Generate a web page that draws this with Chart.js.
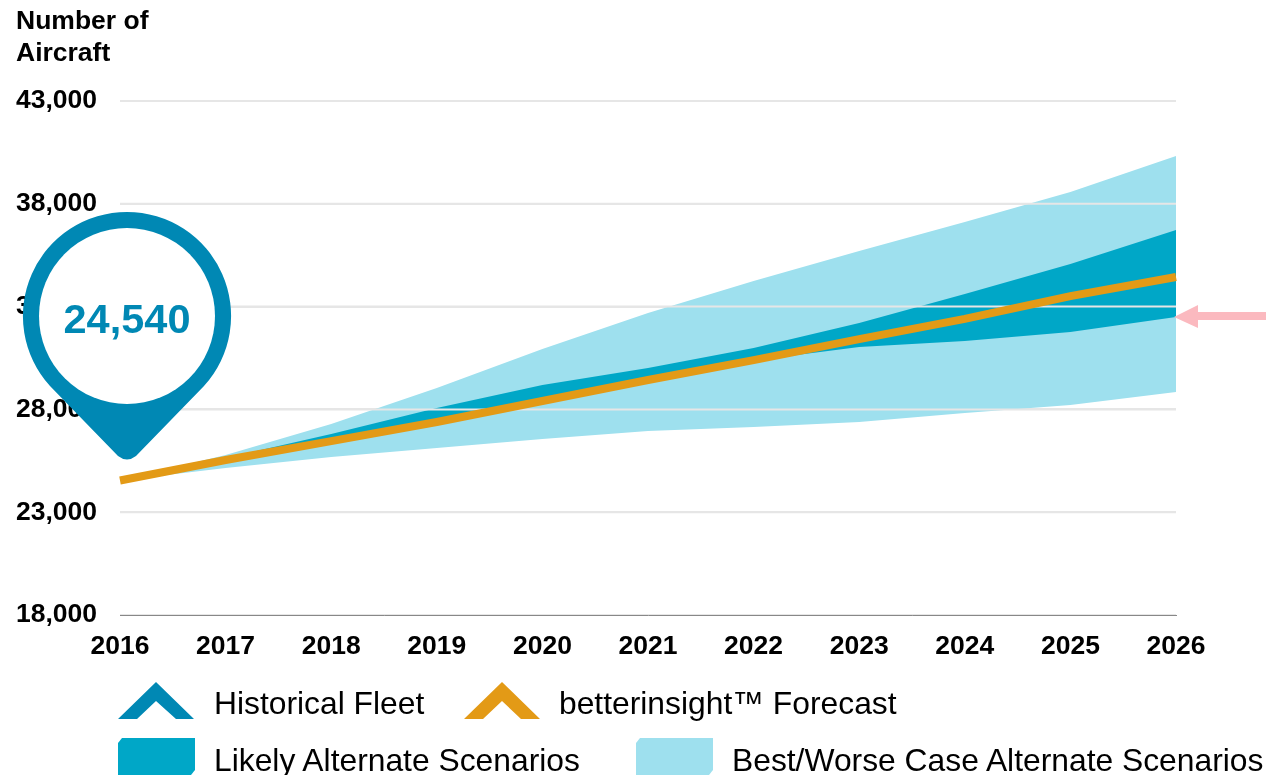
<!DOCTYPE html>
<html>
<head>
<meta charset="utf-8">
<title>Number of Aircraft</title>
<script src="https://cdn.jsdelivr.net/npm/chart.js@4/dist/chart.umd.js"></script>
<style>
    html, body { margin: 0; padding: 0; background: #fff; overflow: hidden; }
    #wrap { position: relative; width: 1266px; height: 775px; }
    #chart { position: absolute; left: 0; top: 0; }
    #overlay { position: absolute; left: 0; top: 0; font-family: "Liberation Sans", Arial, sans-serif; }
    .title { font-size: 26.5px; font-weight: bold; fill: #000; }
    .legend { font-size: 31.8px; fill: #000; }
</style>
</head>
<body>
<div id="wrap">
    <canvas id="chart" width="1266" height="775"></canvas>
    <svg id="overlay" width="1266" height="775" viewBox="0 0 1266 775">
        <text class="title" x="16" y="29">Number of</text>
        <text class="title" x="16" y="61">Aircraft</text>

        <!-- pin over the 2016 value -->
        <path fill="#0088b4" d="M127 212 A104 104 0 0 1 204 386 L136 456 Q127 463 118 456 L50 386 A104 104 0 0 1 127 212 Z"/>
        <circle cx="127" cy="316" r="88" fill="#fff"/>
        <text id="pinValue" x="127" y="333" text-anchor="middle" fill="#0088b4"
              style="font-size:41.5px;font-weight:bold"></text>

        <!-- pink arrow at the right edge -->
        <polygon fill="#fbb9bf" points="1174,317 1198,305 1198,312 1266,312 1266,320 1198,320 1198,328"/>

        <!-- legend -->
        <polygon fill="#0088b4" points="118,719 156,682 194,719 176,719 156,701 137,719"/>
        <text class="legend" x="214" y="714">Historical Fleet</text>
        <polygon fill="#e39a16" points="464,719 502,682 540,719 521,719 502,701 483,719"/>
        <text class="legend" x="559" y="714">betterinsight™ Forecast</text>
        <polygon fill="#00a7c7" points="122,738 195,738 195,770 191,775 118,775 118,743"/>
        <text class="legend" x="214" y="771">Likely Alternate Scenarios</text>
        <polygon fill="#9ee0ee" points="640,738 713,738 713,770 709,775 636,775 636,743"/>
        <text class="legend" x="732" y="771">Best/Worse Case Alternate Scenarios</text>
    </svg>
</div>
<script>
const years = ["2016", "2017", "2018", "2019", "2020", "2021", "2022", "2023", "2024", "2025", "2026"];

const historicalFleet = [24540];
const forecast = [24540, 25540, 26460, 27390, 28410, 29430, 30400, 31420, 32400, 33510, 34440];
const likelyHigh = [24540, 25640, 26800, 28070, 29190, 30010, 30990, 32200, 33610, 35070, 36730];
const likelyLow = [24540, 25500, 26420, 27350, 28390, 29430, 30380, 31030, 31330, 31760, 32490];
const bestCase = [24540, 25780, 27290, 29040, 30940, 32690, 34250, 35700, 37110, 38570, 40320];
const worstCase = [24540, 25150, 25680, 26120, 26560, 26950, 27140, 27390, 27820, 28210, 28850];

const FONT = "'Liberation Sans', Arial, sans-serif";
const GRID = "#e6e6e6";

document.getElementById("pinValue").textContent = historicalFleet[0].toLocaleString("en-US");

// gridlines show through the bands but stay under the forecast line
const gridOverBands = {
    id: "gridOverBands",
    beforeDatasetDraw(chart, args) {
        if (args.index !== 0) return;
        const { ctx, chartArea, scales } = chart;
        ctx.save();
        ctx.strokeStyle = GRID;
        ctx.lineWidth = 2;
        for (const tick of scales.y.ticks) {
            if (tick.value === scales.y.min) continue;
            const y = scales.y.getPixelForValue(tick.value);
            ctx.beginPath();
            ctx.moveTo(chartArea.left, y);
            ctx.lineTo(chartArea.right, y);
            ctx.stroke();
        }
        ctx.restore();
    }
};

function band(label, data, color, fill) {
    return { label, data, backgroundColor: color, borderWidth: 0, pointRadius: 0, tension: 0, fill };
}

new Chart(document.getElementById("chart"), {
    type: "line",
    data: {
        labels: years,
        datasets: [
            { label: "betterinsight™ Forecast", data: forecast, borderColor: "#e39a16", borderWidth: 8,
              borderCapStyle: "butt", pointRadius: 0, tension: 0, fill: false, clip: false },
            band("Likely Alternate Scenarios", likelyHigh, "#00a7c7", "+1"),
            band("Likely Alternate Scenarios (low)", likelyLow, "transparent", false),
            band("Best/Worse Case Alternate Scenarios", bestCase, "#9ee0ee", "+1"),
            band("Best/Worse Case (low)", worstCase, "transparent", false)
        ]
    },
    options: {
        responsive: false,
        animation: false,
        layout: { padding: { left: 16, right: 90, top: 101, bottom: 0 } },
        plugins: { legend: { display: false }, tooltip: { enabled: false } },
        scales: {
            x: {
                offset: false,
                afterFit: scale => { scale.height = 160; },
                grid: { display: false, drawTicks: false },
                border: { display: true, color: "#888", width: 1 },
                ticks: { color: "#000", padding: 16, maxRotation: 0, autoSkip: false,
                          font: { family: FONT, size: 26.5, weight: "bold" } }
            },
            y: {
                min: 18000,
                max: 43000,
                afterFit: scale => { scale.width = 104; },
                grid: { color: GRID, lineWidth: 2, drawTicks: false },
                border: { display: false },
                ticks: { stepSize: 5000, color: "#000", crossAlign: "far", padding: 0,
                          callback: value => value.toLocaleString("en-US"),
                          font: { family: FONT, size: 26.5, weight: "bold" } }
            }
        }
    },
    plugins: [gridOverBands]
});
</script>
</body>
</html>
